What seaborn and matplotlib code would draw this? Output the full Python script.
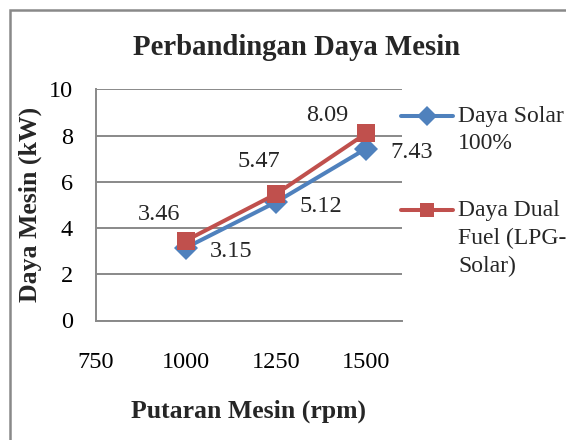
import matplotlib
matplotlib.use("Agg")
import matplotlib.pyplot as plt
import seaborn as sns
import pandas as pd
from matplotlib.patches import Rectangle

rpm = [1000, 1250, 1500]
daya_solar = [3.15, 5.12, 7.43]
daya_dual = [3.46, 5.47, 8.09]
x_ticks = [750, 1000, 1250, 1500]
y_ticks = [0, 2, 4, 6, 8, 10]
label_solar = "Daya Solar\n100%"
label_dual = "Daya Dual\nFuel (LPG-\nSolar)"

sns.set_theme(style="white")
plt.rcParams["font.family"] = ["Liberation Serif", "DejaVu Serif"]

df = pd.DataFrame({
    "rpm": rpm * 2,
    "daya": daya_solar + daya_dual,
    "seri": [label_solar] * 3 + [label_dual] * 3,
})

W, H = 566, 440
fig = plt.figure(figsize=(W / 100, H / 100), dpi=100)
ax = fig.add_axes([96 / W, 1 - 320.5 / H, 306 / W, 231.2 / H])

grey = "#898989"
# chart area frame (excel style)
fig.patches.append(Rectangle((10 / W, -0.1), 1.2, 1 - 10 / H + 0.1, transform=fig.transFigure,
                             fill=False, edgecolor=grey, linewidth=1.8))

sns.lineplot(data=df, x="rpm", y="daya", hue="seri", style="seri",
             palette=["#4F81BD", "#C0504D"], markers=["D", "s"], dashes=False,
             markersize=12.5, linewidth=2.9, markeredgewidth=0, ax=ax)

# data labels: blue on the right, red above-left
for x, y in zip(rpm, daya_solar):
    ax.annotate(f"{y:.2f}", (x, y), xytext=(24, -4), textcoords="offset pixels",
                ha="left", va="center", fontsize=17.5)
red_off = [(-27, 26), (-17, 33), (-39, 18)]
for (x, y), off in zip(zip(rpm, daya_dual), red_off):
    ax.annotate(f"{y:.2f}", (x, y), xytext=off, textcoords="offset pixels",
                ha="center", va="center", fontsize=17.5)

ax.set_xlim(750, 1600)
ax.set_ylim(0, 10)
ax.set_xticks(x_ticks)
ax.set_yticks(y_ticks)
ax.tick_params(axis="both", labelsize=17.5, colors="black")
ax.tick_params(axis="y", length=5.8, color=grey, width=1.4, pad=11)
ax.tick_params(axis="x", length=0, pad=23)
ax.grid(axis="y", color=grey, linewidth=1.4)
for s in ["top", "right"]:
    ax.spines[s].set_visible(False)
for s in ["left", "bottom"]:
    ax.spines[s].set_color(grey)
    ax.spines[s].set_linewidth(1.4)

ax.set_xlabel("Putaran Mesin (rpm)", fontsize=18.5, fontweight="bold", va="center")
ax.xaxis.set_label_coords(0.5, (320.5 - 411) / 231.2)
ax.set_ylabel("Daya Mesin (kW)", fontsize=18.5, fontweight="bold", va="center")
ax.yaxis.set_label_coords((30 - 96) / 306, 0.5)
fig.text(296 / W, 1 - 55 / H, "Perbandingan Daya Mesin", ha="center", va="baseline",
         fontsize=20.7, fontweight="bold")

leg = ax.legend(loc="upper left", bbox_to_anchor=(401 / W, 1 - 106 / H),
                bbox_transform=fig.transFigure, frameon=False, fontsize=17,
                handlelength=2.2, handletextpad=0.22, labelspacing=1.95,
                borderpad=0, borderaxespad=0, markerscale=0.8, handleheight=1.1)
leg.set_title(None)
for t in leg.get_texts():
    t.set_linespacing(1.4)
# excel puts the marker next to the first line of a wrapped entry
for col in leg._legend_handle_box.get_children():
    for row in col.get_children():
        row.align = "top"

fig.savefig("out.png", dpi=100)
